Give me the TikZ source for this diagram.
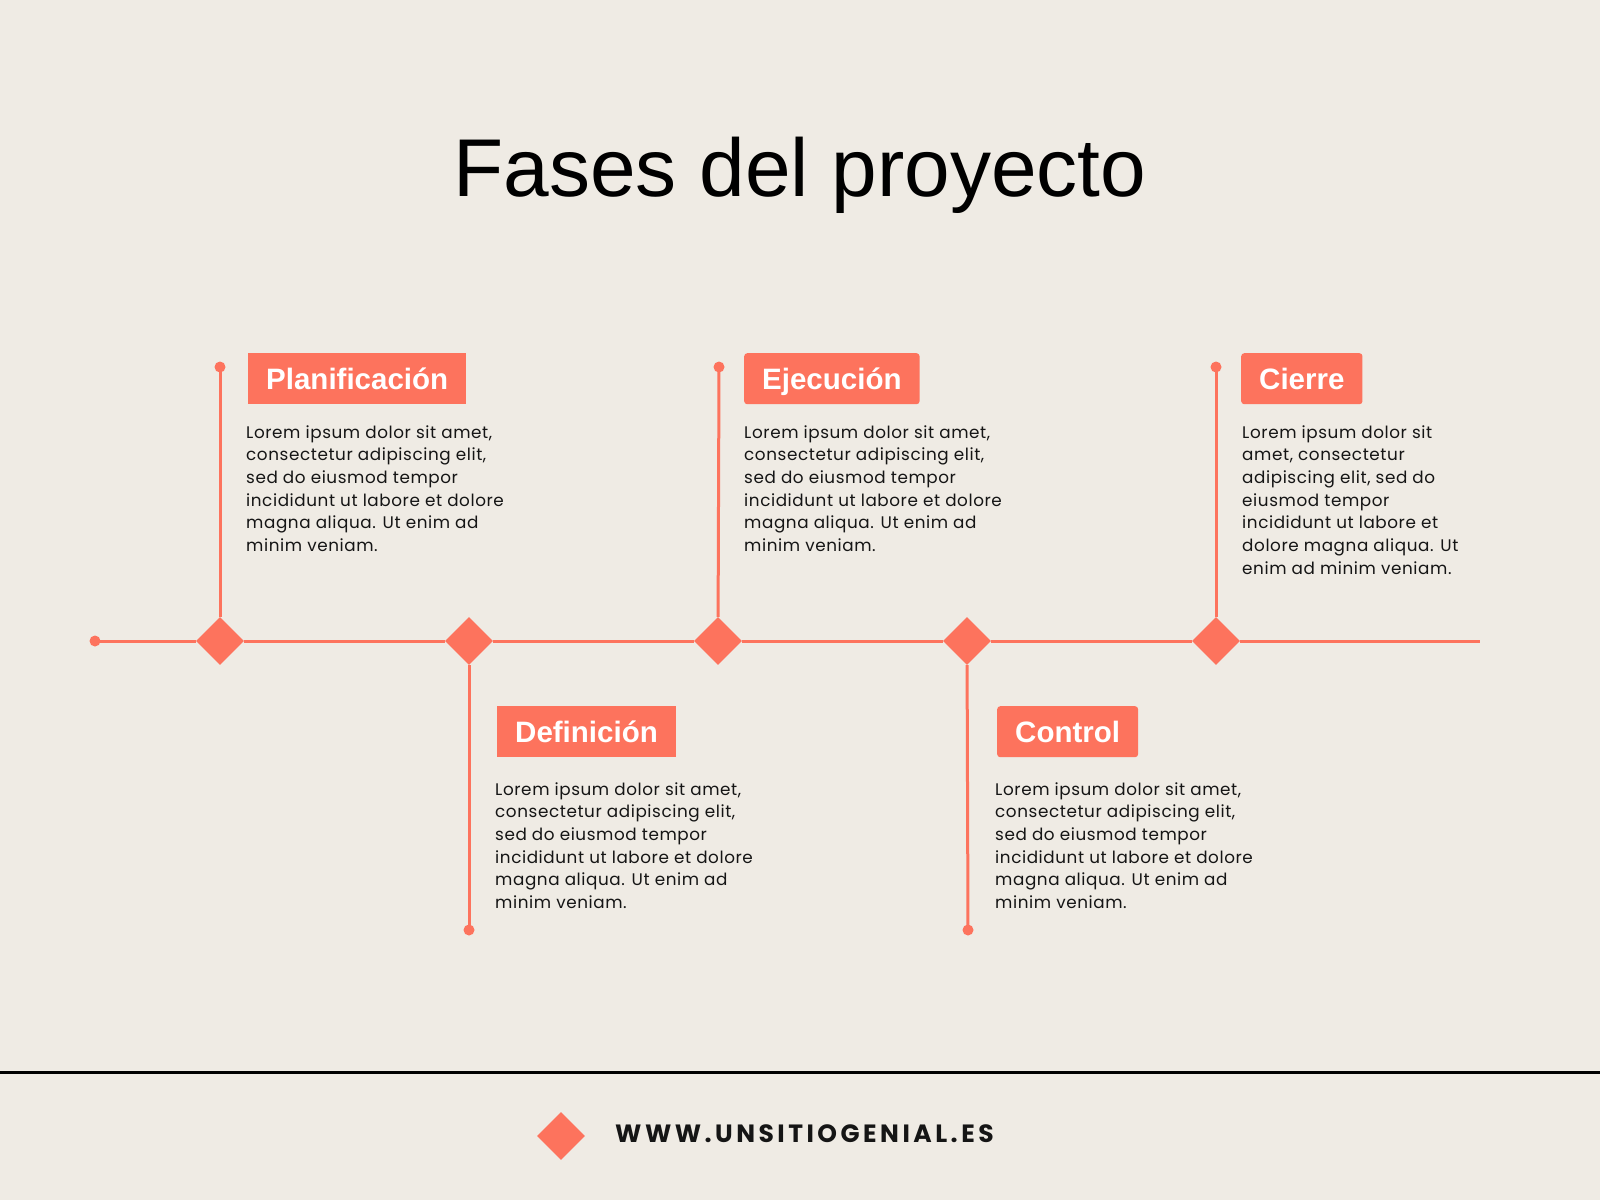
\documentclass[tikz,border=0pt]{standalone}
\usepackage{fontspec}
\setmainfont{Liberation Sans}
\newfontfamily\bodyfont[LetterSpace=3.5]{Poppins}
\newfontfamily\urlfont[LetterSpace=14]{Poppins}
\usetikzlibrary{shapes.geometric}
\definecolor{bg}{HTML}{EFEBE4}
\definecolor{coral}{HTML}{FD735D}
\definecolor{ink}{HTML}{151515}
\tikzset{
  conn/.style={draw=coral, line width=3},
  dia/.style={diamond, fill=coral, minimum width=48, minimum height=48, inner sep=0},
  dot/.style={circle, fill=coral, minimum size=11, inner sep=0},
  head/.style={fill=coral, text=white, font=\fontsize{29.5}{29.5}\selectfont\bfseries,
    inner xsep=18, inner ysep=15, text height=21, text depth=0, anchor=north west},
  rhead/.style={head, rounded corners=3},
  body/.style={anchor=base west, inner sep=0, text=ink},
}
\newcommand{\lorem}[1]{\parbox[t]{340pt}{\bodyfont\fontsize{16.8}{22.7}\selectfont #1}}
\begin{document}
\begin{tikzpicture}[x=1pt,y=-1pt]
\fill[bg] (0,0) rectangle (1600,1200);
\useasboundingbox (0,0) rectangle (1600,1200);
% title
\node[anchor=base, inner sep=0, font=\fontsize{82}{90}\selectfont] (title) at (800,196) {Fases del proyecto};
% timeline
\node[dot] (s0) at (95,641) {};
\coordinate (e0) at (1480,641);
\node[dia] (d1) at (220,641) {};
\node[dia] (d2) at (469,641) {};
\node[dia] (d3) at (718,641) {};
\node[dia] (d4) at (967,641) {};
\node[dia] (d5) at (1216,641) {};
\draw[conn] (s0.center) -- (d1);
\draw[conn] (d1) -- (d2);
\draw[conn] (d2) -- (d3);
\draw[conn] (d3) -- (d4);
\draw[conn] (d4) -- (d5);
\draw[conn] (d5) -- (e0);
% stems
\node[dot] (t1) at (220,367) {};
\node[dot] (b2) at (469,930) {};
\node[dot] (t3) at (719,367) {};
\node[dot] (b4) at (968,930) {};
\node[dot] (t5) at (1216,367) {};
\draw[conn] (t1.center) -- (d1);
\draw[conn] (d2) -- (b2.center);
\draw[conn] (t3.center) -- (d3);
\draw[conn] (d4) -- (b4.center);
\draw[conn] (t5.center) -- (d5);
% headings
\node[head] (h1) at (248,353) {Planificación};
\node[head] (h2) at (497,706) {Definición};
\node[rhead] (h3) at (744,353) {Ejecución};
\node[rhead] (h4) at (997,706) {Control};
\node[rhead] (h5) at (1241,353) {Cierre};
% bodies
\node[body] (p1) at (246,438) {\lorem{Lorem ipsum dolor sit amet,\\consectetur adipiscing elit,\\sed do eiusmod tempor\\incididunt ut labore et dolore\\magna aliqua. Ut enim ad\\minim veniam.}};
\node[body] (p2) at (495,795) {\lorem{Lorem ipsum dolor sit amet,\\consectetur adipiscing elit,\\sed do eiusmod tempor\\incididunt ut labore et dolore\\magna aliqua. Ut enim ad\\minim veniam.}};
\node[body] (p3) at (744,438) {\lorem{Lorem ipsum dolor sit amet,\\consectetur adipiscing elit,\\sed do eiusmod tempor\\incididunt ut labore et dolore\\magna aliqua. Ut enim ad\\minim veniam.}};
\node[body] (p4) at (995,795) {\lorem{Lorem ipsum dolor sit amet,\\consectetur adipiscing elit,\\sed do eiusmod tempor\\incididunt ut labore et dolore\\magna aliqua. Ut enim ad\\minim veniam.}};
\node[body] (p5) at (1242,438) {\lorem{Lorem ipsum dolor sit\\amet, consectetur\\adipiscing elit, sed do\\eiusmod tempor\\incididunt ut labore et\\dolore magna aliqua. Ut\\enim ad minim veniam.}};
% footer
\draw[line width=3, draw=black] (0,1072) -- (1600,1072);
\node[dia] (fd) at (561,1136) {};
\node[anchor=base west, inner sep=0, text=ink, font=\urlfont\bfseries\fontsize{25}{25}\selectfont] (url) at (615,1142) {WWW.UNSITIOGENIAL.ES};
\end{tikzpicture}
\end{document}
